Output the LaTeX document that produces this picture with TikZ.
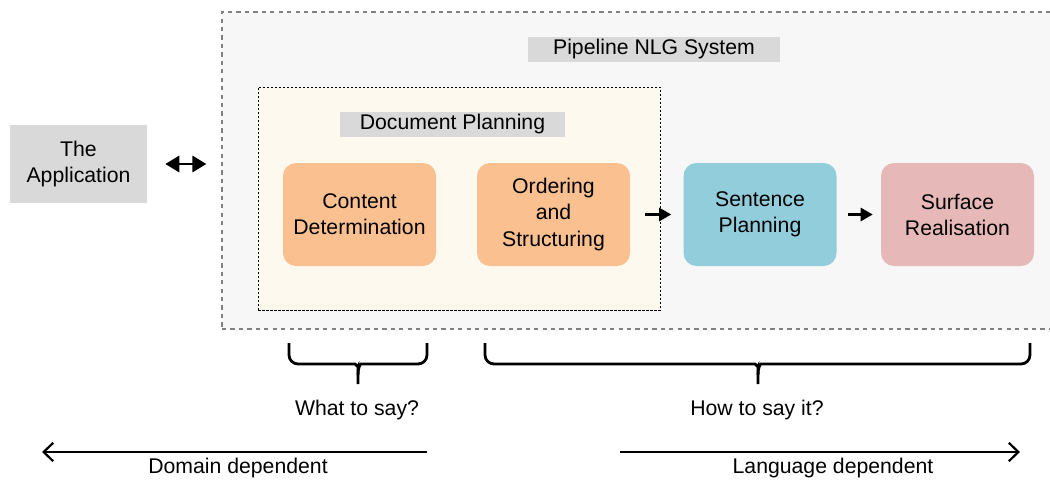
\documentclass[tikz,border=0pt]{standalone}
\usepackage{fontspec}
\setmainfont{Liberation Sans}
\usetikzlibrary{arrows.meta}
\newlength\px
\setlength\px{0.025cm}
\definecolor{appgray}{HTML}{D9D9D9}
\definecolor{outerbg}{HTML}{F7F7F7}
\definecolor{docbg}{HTML}{FEF9EF}
\definecolor{dporange}{HTML}{FAC090}
\definecolor{spblue}{HTML}{92CDDC}
\definecolor{srpink}{HTML}{E6B9B8}
\begin{document}
\begin{tikzpicture}
        [x=\px, y=-\px,
        every node/.style={font=\fontsize{15.1}{18.5}\selectfont, align=center, inner sep=0pt},
        stage/.style={rounded corners=13*\px, minimum width=153*\px, minimum height=103*\px},
        label/.style={fill=appgray, minimum height=25*\px},
        flow/.style={line width=2.3*\px, -{Triangle[length=8.6pt, width=9.4pt]}},
        brace/.style={line width=2.8*\px, rounded corners=9*\px},
        dep/.style={line width=2.2*\px}]

        \clip (0,0) rectangle (1050,480);

        % Containers
        \node[draw=gray, dashed, fill=outerbg, line width=1.2*\px, minimum width=838*\px, minimum height=317*\px] (pipe) at (641,170.5) {};
        \node[label, minimum width=252*\px] (pipelbl) at (654,49) {Pipeline NLG System};
        \node[draw=black, dash pattern=on 2.5*\px off 1.5*\px, fill=docbg, line width=1*\px, minimum width=402*\px, minimum height=223*\px] (docplan) at (459,198.5) {};
        \node[label, minimum width=225*\px] (doclbl) at (452.5,124.5) {Document Planning};

        % Stages
        \node[stage, fill=dporange] (content) at (359.5,214.5) {Content\\Determination};
        \node[stage, fill=dporange] (ordering) at (553.5,214.5) {Ordering\\and\\Structuring};
        \node[stage, fill=spblue] (sentence) at (760,214.5) {Sentence\\Planning};
        \node[stage, fill=srpink] (surface) at (957.5,214.5) {Surface\\Realisation};

        % The application
        \node[fill=appgray, minimum width=137*\px, minimum height=78*\px] (app) at (78.5,164) {The\\Application};

        % Arrows between parts
        \draw[line width=2.8*\px, {Triangle[length=10pt, width=11.5pt]}-{Triangle[length=10pt, width=11.5pt]}, shorten <=18*\px, shorten >=15*\px] (app.east) -- (app.east -| pipe.west);
        \draw[flow, shorten <=15*\px, shorten >=12*\px] (ordering) -- (sentence);
        \draw[flow, shorten <=11*\px, shorten >=8*\px] (sentence) -- (surface);

        % Braces
        \draw[brace] (289,343) -- (289,364) -- (346,364) .. controls (356,364) and (358,368) .. (358,375) -- (358,384);
        \draw[brace] (427,343) -- (427,364) -- (370,364) .. controls (360,364) and (358,368) .. (358,375);
        \draw[brace] (485,343) -- (485,364) -- (746,364) .. controls (756,364) and (758,368) .. (758,375) -- (758,384);
        \draw[brace] (1030,343) -- (1030,364) -- (770,364) .. controls (760,364) and (758,368) .. (758,375);

        \node (what) at (357,410) {What to say?};
        \node (how) at (757,410) {How to say it?};

        % Dependence
        \coordinate (domR) at (427,452);
        \coordinate (domL) at (42,452);
        \coordinate (lanL) at (620,452);
        \coordinate (lanR) at (1020,452);
        \draw[dep, -{Straight Barb[length=6.8pt, width=13pt]}] (domR) -- (domL);
        \draw[dep, -{Straight Barb[length=6.8pt, width=13pt]}] (lanL) -- (lanR);
        \node (domain) at (238,468) {Domain dependent};
        \node (language) at (833,468) {Language dependent};

    \end{tikzpicture}
\end{document}
